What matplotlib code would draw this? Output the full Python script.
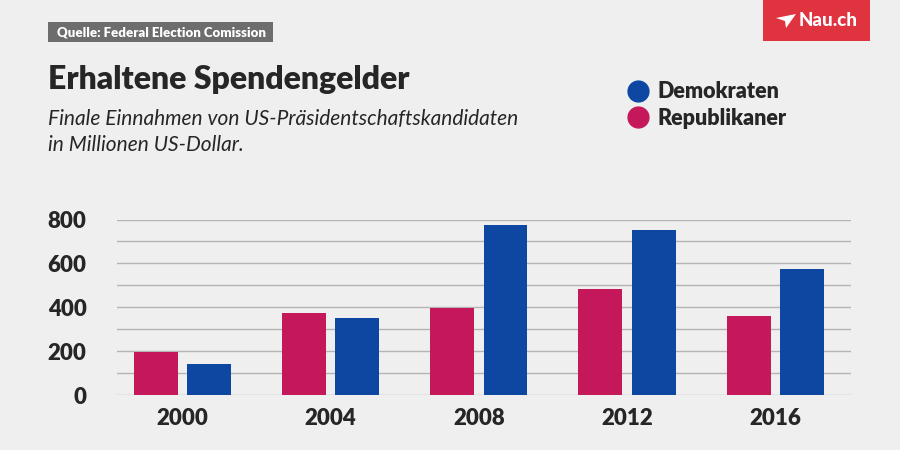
import numpy as np
import matplotlib.pyplot as plt
from matplotlib.patches import Rectangle, Polygon
from matplotlib.lines import Line2D

plt.rcParams['font.family'] = ['Lato', 'DejaVu Sans']

years = ['2000', '2004', '2008', '2012', '2016']
republikaner = [197, 373, 398, 482, 359]
demokraten = [142, 352, 773, 750, 573]

bg = '#efefef'
red = '#c4185a'
blue = '#0d47a1'
dark = '#262626'

fig = plt.figure(figsize=(9, 4.5), dpi=100, facecolor=bg)
ax = fig.add_axes([0.13, 0.1222, 0.8156, 0.39])
ax.set_facecolor(bg)

x = np.arange(len(years))
width = 0.296
ax.bar(x - 0.18, republikaner, width, color=red, zorder=3)
ax.bar(x + 0.18, demokraten, width, color=blue, zorder=3)

ax.set_xlim(-0.44, 4.51)
ax.set_ylim(0, 800)
ax.set_yticks([0, 200, 400, 600, 800])
ax.set_yticks(np.arange(0, 801, 100), minor=True)
ax.grid(axis='y', which='both', color='#b4b4b4', linewidth=1, zorder=0)
ax.set_xticks(x)
ax.set_xticklabels(years)
for s in ax.spines.values():
    s.set_visible(False)
ax.tick_params(axis='both', which='both', length=0, labelsize=16, labelcolor=dark)
ax.tick_params(axis='y', pad=22)
ax.tick_params(axis='x', pad=9)
for lab in ax.get_xticklabels() + ax.get_yticklabels():
    lab.set_fontweight('heavy')

# source box
fig.add_artist(Rectangle((48 / 900, 1 - 42 / 450), 225 / 900, 20 / 450,
                         transform=fig.transFigure, color='#6d6d6d', lw=0))
fig.text(57 / 900, 1 - 32.5 / 450, 'Quelle: Federal Election Comission', color='white',
         fontsize=9.5, fontweight='heavy', va='center', ha='left')

# logo
fig.add_artist(Rectangle((763 / 900, 1 - 41 / 450), 107 / 900, 41 / 450,
                         transform=fig.transFigure, color='#df3340', lw=0))
plane = Polygon([(776 / 900, 1 - 18 / 450), (796 / 900, 1 - 14 / 450),
                 (786 / 900, 1 - 28 / 450), (785 / 900, 1 - 21 / 450)],
                closed=True, transform=fig.transFigure, color='white', lw=0)
fig.add_artist(plane)
fig.text(799 / 900, 1 - 21 / 450, 'Nau.ch', color='white', fontsize=13.5,
         fontweight='black', va='center', ha='left')

# titles
fig.text(48 / 900, 1 - 80 / 450, 'Erhaltene Spendengelder', fontsize=23,
         fontweight='heavy', color=dark, va='center', ha='left')
fig.text(48 / 900, 1 - 119 / 450, 'Finale Einnahmen von US-Präsidentschaftskandidaten',
         fontsize=15, style='italic', color=dark, va='center', ha='left')
fig.text(48 / 900, 1 - 145 / 450, 'in Millionen US-Dollar.',
         fontsize=15, style='italic', color=dark, va='center', ha='left')

# legend
handles = [Line2D([], [], marker='o', linestyle='', markersize=15, color=blue),
           Line2D([], [], marker='o', linestyle='', markersize=15, color=red)]
leg = fig.legend(handles, ['Demokraten', 'Republikaner'], loc='upper left',
                 bbox_to_anchor=(606 / 900, 1 - 62 / 450), frameon=False,
                 handletextpad=0.3, labelspacing=0.25, handlelength=1.2,
                 prop={'size': 15.5, 'weight': 'heavy'})
for t in leg.get_texts():
    t.set_color(dark)

fig.savefig('out.png', dpi=100, facecolor=bg)
